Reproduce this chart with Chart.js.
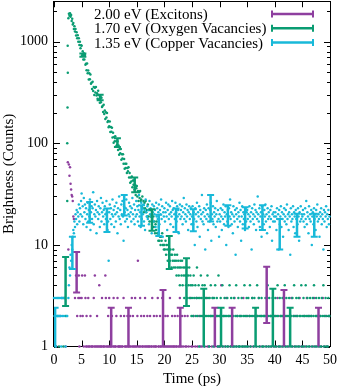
<!DOCTYPE html>
<html><head><meta charset="utf-8">
<script src="https://cdn.jsdelivr.net/npm/chart.js@4.4.0/dist/chart.umd.min.js"></script>
<style>html,body{margin:0;padding:0;background:#fff;}canvas{display:block;}</style>
</head><body>
<canvas id="c" width="339" height="388"></canvas>
<script>
// ---- data ----
const binWidth = 0.1; // ps per time bin (bin i is at t = i*binWidth)

const excitonCounts = [
0,0,0,0,1,0,0,0,0,0, 0,2,0,0,0,0,0,3,0,0, 0,1,0,0,0,65,9,62,48,58, 40,35,31,30,27,19,18,0,3,0, 5,0,2,0,3,5,1,3,2,0,
3,5,2,0,1,0,5,3,1,2, 1,0,3,1,1,0,2,1,0,1, 1,0,3,1,5,1,0,1,2,1, 0,1,4,1,0,1,1,3,0,1, 1,0,1,5,3,1,0,1,2,1,
3,1,0,1,1,2,0,1,3,1, 0,1,1,2,0,3,1,1,0,1, 1,2,0,1,1,0,3,2,1,0, 1,1,0,2,1,1,0,1,2,1, 0,3,1,2,1,0,1,3,1,0,
1,2,7,1,0,1,3,1,2,0, 1,1,0,2,1,3,1,0,1,2, 1,0,1,1,2,0,1,1,3,0, 1,2,1,0,1,1,2,0,3,1, 1,0,2,1,1,0,3,1,2,1,
0,1,2,1,0,1,2,1,0,1, 3,1,0,1,2,1,0,1,1,2, 0,1,1,0,2,1,0,1,3,1, 0,1,2,0,1,0,0,2,1,0, 1,0,2,0,1,0,0,3,0,1,
0,1,0,2,0,0,1,0,3,0, 1,0,0,2,0,1,0,0,1,0, 0,2,0,1,0,0,3,0,1,0, 0,1,0,0,2,0,1,0,3,0, 0,1,0,0,2,0,1,0,0,1,
1,0,2,4,0,1,0,0,2,0, 1,0,3,0,0,1,0,2,0,0, 1,0,0,2,0,1,0,3,0,0, 1,0,2,0,0,1,0,0,2,0, 0,1,0,3,0,0,1,0,2,0,
0,1,0,0,2,0,1,0,0,3, 0,1,0,2,0,0,1,0,0,2, 0,3,0,1,0,0,2,0,1,0, 0,2,0,0,1,0,3,0,0,1, 0,0,2,0,1,0,0,2,0,1,
0,2,0,1,0,3,0,0,1,0, 2,0,0,1,0,2,0,3,0,0, 1,0,2,0,0,1,0,0,2,0, 3,0,1,0,0,2,0,1,0,0, 2,0,0,1,0,3,0,0,1,0,
0,1,0,2,0,0,1,0,3,0, 0,2,0,1,0,0,2,0,0,1, 0,3,0,0,1,0,2,0,0,1, 0,0,2,0,1,0,0,3,0,0, 1,0,2,0,0,1,0,0,2,0
];

const oxygenCounts = [
0,0,0,1,0,0,0,2,0,1, 0,0,0,0,3,0,0,1,0,3, 0,2,0,0,100,495,1700,1880,1800,1900, 1760,1830,1600,1680,1480,1530,1330,1420,1260,1330, 1150,1240,1080,1160,1000,1080,930,1000,860,920,
913,736,803,669,769,669,739,592,605,522, 611,488,520,424,488,427,476,385,395,342, 404,327,358,299,353,316,358,296,310,274, 328,269,297,250,289,254,281,227,233,203, 240,194,210,173,202,179,199,162,166,144,
147,164,129,145,130,142,114,127,101,115, 105,117,93,105,96,105,86,95,77,88, 80,88,69,78,71,78,63,70,56,63, 57,63,51,57,53,58,46,51,41,46, 42,47,37,43,39,43,35,39,31,36,
38,30,34,27,33,29,34,27,28,24, 30,23,27,21,26,23,27,21,22,19, 25,19,22,17,22,19,22,17,18,15, 19,15,17,13,16,14,17,13,13,11, 15,11,12,10,12,11,13,10,10,9,
10,9,11,8,10,9,7,10,8,9, 7,9,8,6,8,7,9,6,7,8, 6,7,5,8,6,7,5,6,4,7, 6,5,7,4,6,5,3,6,5,4, 5,6,3,5,4,6,3,5,4,2,
3,4,2,5,3,0,4,2,3,6, 2,3,4,1,3,2,5,3,2,4, 2,3,1,4,2,3,0,2,5,3, 2,1,3,2,4,0,2,3,2,1, 3,2,4,2,0,3,2,1,5,2,
2,1,3,0,2,4,1,2,0,3, 2,1,0,2,3,1,2,0,4,2, 1,3,2,0,1,2,3,1,0,2, 4,1,2,0,3,1,2,1,0,2, 3,1,0,2,1,4,2,0,1,3,
2,1,3,0,2,4,1,2,0,3, 2,0,1,3,2,0,2,1,4,2, 0,3,1,2,0,2,3,1,0,2, 1,2,0,3,2,1,0,4,2,1, 3,0,2,1,2,0,3,2,1,0,
2,3,1,0,2,4,2,1,0,3, 1,2,0,2,3,1,2,0,4,1, 2,3,0,1,2,0,3,2,1,0, 2,1,3,0,2,4,1,0,2,3, 1,2,0,3,1,2,0,2,4,1,
0,2,3,1,2,0,4,2,1,3, 2,0,1,2,3,0,2,1,0,3, 2,4,1,0,2,3,1,2,0,2, 3,1,0,2,1,3,0,2,4,1, 2,0,3,1,2,0,1,3,2,2
];
const oxygenRiseTime = [2.40, 2.45, 2.48];
const oxygenRiseCounts = [27, 225, 910];

const copperCounts = [
3,2,3,1,2,3,2,3,2,3, 2,3,2,1,3,2,3,0,2,3, 0,1,0,2,2,0,3,4,6,5, 8,7,10,9,12,14,13,17,15,20, 18,22,16,21,19,25,17,23,20,27,
32,19,24,16,29,21,25,18,23,15, 20,26,17,22,19,28,14,21,24,18, 23,33,16,20,25,19,22,13,27,21, 18,24,20,15,23,29,17,21,26,19, 22,16,24,20,18,27,21,14,17,7,
21,25,18,23,16,20,28,19,22,15, 24,20,17,26,21,13,23,19,30,18, 22,16,25,20,27,19,11,24,21,17, 23,28,18,22,15,20,26,19,24,21, 17,23,29,20,18,25,16,22,19,27,
20,24,17,22,31,19,21,15,26,18, 23,20,25,17,22,14,28,21,19,24, 18,22,16,27,20,23,19,13,25,21, 17,24,20,22,15,26,19,23,18,21, 25,16,22,20,28,18,24,12,21,19,
23,17,21,26,19,14,22,25,18,20, 24,16,21,19,27,22,15,23,20,18, 26,21,17,24,19,22,13,20,25,18, 22,19,24,16,21,29,18,23,20,17, 25,19,22,14,21,24,18,20,23,16,
19,24,16,21,18,10,23,20,17,26, 15,21,19,24,12,22,18,20,31,17, 21,16,23,19,9,22,18,25,20,14, 23,19,17,22,26,11,20,18,24,16, 21,19,23,15,20,27,17,22,18,12,
20,17,23,19,14,22,18,25,16,21, 19,24,10,20,17,22,15,23,19,28, 18,21,16,20,13,24,19,17,22,8, 20,23,18,15,21,19,26,17,22,11, 19,24,16,21,18,20,14,23,17,21,
22,18,20,15,24,19,17,21,9,23, 18,20,16,25,19,22,14,21,18,30, 20,17,23,15,19,21,12,24,18,20, 16,22,19,25,17,20,13,23,18,21, 19,15,22,18,24,11,20,17,21,19,
17,21,19,14,23,18,20,9,22,16, 19,24,15,21,18,12,20,23,17,19, 22,16,25,18,20,14,21,19,8,23, 17,20,18,24,15,21,19,13,22,18, 20,16,23,19,11,21,17,24,18,20,
19,22,17,20,15,23,18,27,16,21, 19,13,24,18,20,17,22,10,19,21, 16,23,18,20,14,22,19,25,17,20, 18,12,21,19,23,16,20,18,9,22, 17,21,19,24,15,20,18,22,16,19
];

// error bars (time, lower end, upper end)
const excitonBarTime = [4.1, 10.36, 13.49, 19.75, 22.88, 29.14, 32.27, 38.53, 41.66, 47.92];
const excitonBarLow  = [3.4, 0.4, 0.4, 0.3, 0.4, 0.4, 0.4, 1.7, 0.3, 0.4];
const excitonBarHigh = [8.5, 2.4, 2.4, 3.6, 2.4, 2.4, 2.4, 6.1, 3.6, 2.4];
const oxygenBarTime = [2.1, 5.23, 8.36, 11.49, 14.62, 17.75, 20.88, 24.0, 27.13, 30.26, 36.52, 39.65, 42.78];
const oxygenBarLow  = [2.5, 710, 265, 92, 33, 13.8, 5.8, 2.5, 0.3, 0.4, 0.4, 0.3, 0.4];
const oxygenBarHigh = [7.6, 765, 300, 112, 46, 22.4, 12.2, 7.4, 3.7, 2.4, 2.4, 3.7, 2.4];
const copperBarTime = [0.2, 3.33, 6.46, 9.59, 12.72, 15.85, 18.98, 22.11, 25.24, 28.37, 31.5, 34.63, 37.76, 40.89, 44.02, 47.15];
const copperBarLow  = [0.4, 5.8, 16.5, 13.4, 19.5, 15.4, 12.2, 13.4, 13.6, 17, 15.4, 14.5, 14, 9, 12, 12];
const copperBarHigh = [2.4, 12, 26.5, 22.8, 31, 24.6, 19.8, 22.8, 22.4, 31, 24.6, 23.5, 24.5, 18, 20.3, 20.3];

const seriesLabels = ['2.00 eV (Excitons)', '1.70 eV (Oxygen Vacancies)', '1.35 eV (Copper Vacancies)'];
const xTickValues = [0, 5, 10, 15, 20, 25, 30, 35, 40, 45, 50];
const yTickValues = [1, 10, 100, 1000];

// ---- styling ----
const PURPLE = '#8e3f9f', GREEN = '#0a9c72', CYAN = '#18b9d9';
const FONT = "'Liberation Serif', 'Times New Roman', serif";

function binsToPoints(counts) {
  const pts = [];
  counts.forEach((c, i) => { if (c > 0) pts.push({x: +(i * binWidth).toFixed(2), y: c}); });
  return pts;
}
const oxygenPoints = binsToPoints(oxygenCounts).concat(oxygenRiseTime.map((t, k) => ({x: t, y: oxygenRiseCounts[k]})));

const barSets = [
  {color: PURPLE, time: excitonBarTime, low: excitonBarLow, high: excitonBarHigh},
  {color: GREEN, time: oxygenBarTime, low: oxygenBarLow, high: oxygenBarHigh},
  {color: CYAN, time: copperBarTime, low: copperBarLow, high: copperBarHigh}
];

const framePlugin = {
  id: 'frame',
  beforeDatasetsDraw(chart) {
    const {ctx, chartArea: a, scales: {x, y}} = chart;
    ctx.save();
    ctx.strokeStyle = '#000';
    ctx.lineWidth = 1;
    ctx.strokeRect(Math.round(a.left) - 0.5, Math.round(a.top) + 0.5, Math.round(a.right - a.left) + 1, Math.round(a.bottom - a.top));
    ctx.beginPath();
    xTickValues.forEach(v => {
      const px = Math.round(x.getPixelForValue(v)) + 0.5;
      ctx.moveTo(px, a.bottom); ctx.lineTo(px, a.bottom - 6);
      ctx.moveTo(px, a.top); ctx.lineTo(px, a.top + 6);
    });
    yTickValues.forEach(d => {
      for (let m = 1; m <= 9; m++) {
        const v = d * m;
        if (v > y.max) break;
        const py = Math.round(y.getPixelForValue(v)) + 0.5;
        const len = m === 1 ? 6 : 3;
        ctx.moveTo(a.left, py); ctx.lineTo(a.left + len, py);
        ctx.moveTo(a.right, py); ctx.lineTo(a.right - len, py);
      }
    });
    ctx.stroke();
    ctx.restore();
  }
};

const errorBarPlugin = {
  id: 'errorBars',
  afterDatasetsDraw(chart) {
    const {ctx, chartArea: a, scales: {x, y}} = chart;
    ctx.save();
    ctx.beginPath(); ctx.rect(a.left, a.top, a.right - a.left, a.bottom - a.top); ctx.clip();
    barSets.forEach(s => {
      ctx.strokeStyle = s.color;
      s.time.forEach((t, k) => {
        const px = x.getPixelForValue(t);
        const yl = y.getPixelForValue(s.low[k]), yh = y.getPixelForValue(s.high[k]);
        ctx.lineWidth = 2.5;
        ctx.beginPath(); ctx.moveTo(px, yl); ctx.lineTo(px, yh); ctx.stroke();
        ctx.lineWidth = 2;
        ctx.beginPath();
        ctx.moveTo(px - 3.5, yl); ctx.lineTo(px + 3.5, yl);
        ctx.moveTo(px - 3.5, yh); ctx.lineTo(px + 3.5, yh);
        ctx.stroke();
      });
    });
    ctx.restore();
  }
};

const legendPlugin = {
  id: 'keyBox',
  afterDraw(chart) {
    const {ctx} = chart;
    ctx.save();
    ctx.font = '15px ' + FONT;
    ctx.textAlign = 'left';
    ctx.textBaseline = 'middle';
    const rows = [14, 28.3, 42.6];
    chart.data.datasets.forEach((ds, k) => {
      const yy = rows[k];
      ctx.fillStyle = '#000';
      ctx.fillText(ds.label, 94, yy + 1);
      ctx.strokeStyle = ds.backgroundColor;
      ctx.lineWidth = 2.5;
      ctx.beginPath(); ctx.moveTo(272, yy); ctx.lineTo(313, yy); ctx.stroke();
      ctx.lineWidth = 2;
      ctx.beginPath();
      ctx.moveTo(272, yy - 3.5); ctx.lineTo(272, yy + 3.5);
      ctx.moveTo(313, yy - 3.5); ctx.lineTo(313, yy + 3.5);
      ctx.stroke();
    });
    ctx.restore();
  }
};

const pointStyle = {pointRadius: 1.25, pointBorderWidth: 0, pointHoverRadius: 0, clip: false};

new Chart(document.getElementById('c'), {
  type: 'scatter',
  data: {
    datasets: [
      Object.assign({label: seriesLabels[0], data: binsToPoints(excitonCounts), backgroundColor: PURPLE, borderColor: PURPLE, order: 3}, pointStyle),
      Object.assign({label: seriesLabels[1], data: oxygenPoints, backgroundColor: GREEN, borderColor: GREEN, order: 2}, pointStyle),
      Object.assign({label: seriesLabels[2], data: binsToPoints(copperCounts), backgroundColor: CYAN, borderColor: CYAN, order: 1}, pointStyle)
    ]
  },
  options: {
    responsive: false,
    animation: false,
    events: [],
    layout: {padding: {top: 1, right: 9, bottom: 0, left: 0}},
    plugins: {legend: {display: false}, tooltip: {enabled: false}},
    scales: {
      x: {
        type: 'linear', min: 0, max: 50, position: 'bottom',
        afterBuildTicks: s => { s.ticks = xTickValues.map(v => ({value: v})); },
        afterFit: s => { s.height = 41.5; s.paddingLeft = 0; s.paddingRight = 0; },
        grid: {display: false, drawTicks: false},
        border: {display: false},
        ticks: {color: '#000', font: {family: FONT, size: 14}, padding: 5, maxRotation: 0, autoSkip: false},
        title: {display: true, text: 'Time (ps)', color: '#000', font: {family: FONT, size: 15}, padding: {top: 0, bottom: 0}}
      },
      y: {
        type: 'logarithmic', min: 1, max: 2500, position: 'left',
        afterBuildTicks: s => { s.ticks = yTickValues.map(v => ({value: v})); },
        afterFit: s => { s.width = 54; s.paddingTop = 0; s.paddingBottom = 0; },
        grid: {display: false, drawTicks: false},
        border: {display: false},
        ticks: {color: '#000', font: {family: FONT, size: 14}, padding: 6, autoSkip: false, callback: v => String(v)},
        title: {display: true, text: 'Brightness (Counts)', color: '#000', font: {family: FONT, size: 15}, padding: {top: 0, bottom: 0}}
      }
    }
  },
  plugins: [framePlugin, errorBarPlugin, legendPlugin]
});
</script>
</body></html>
